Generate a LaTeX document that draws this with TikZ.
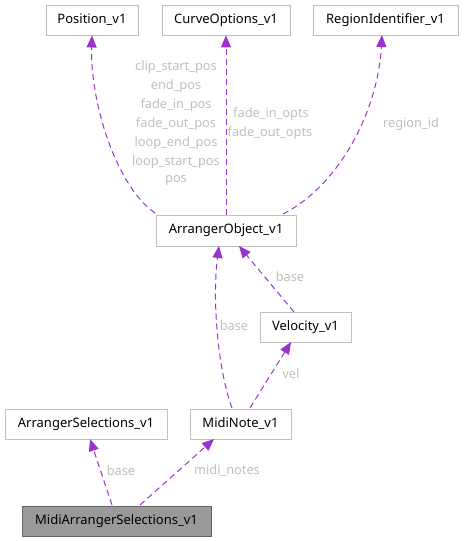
\documentclass[tikz,border=0pt]{standalone}
\usepackage{fontspec}
\setmainfont{Noto Sans}
\usetikzlibrary{arrows.meta}
\definecolor{edgec}{HTML}{9A32CD}
\definecolor{labc}{HTML}{BEBEBE}
\definecolor{boxc}{HTML}{BFBFBF}
\tikzset{
  cls/.style={draw=boxc, line width=0.9pt, fill=white, minimum height=30pt, inner sep=0pt, font=\fontsize{13}{15}\selectfont, text=black},
  focus/.style={cls, fill=black!40, draw=black!60},
  edge/.style={draw=edgec, line width=1pt, dash pattern=on 6pt off 4pt, -{Triangle[length=12pt,width=10pt]}},
  lab/.style={text=labc, font=\fontsize{12.8}{15}\selectfont, inner sep=0pt, align=center}
}
\begin{document}
\begin{tikzpicture}[x=1pt,y=-1pt]
\useasboundingbox (0,0) rectangle (464,541);
\node[cls, minimum width=92pt] (pos) at (92,20) {Position\_v1};
\node[cls, minimum width=128pt] (curve) at (226,20) {CurveOptions\_v1};
\node[cls, minimum width=145pt] (region) at (385.5,20) {RegionIdentifier\_v1};
\node[cls, minimum width=140pt, minimum height=31pt] (ao) at (226,230.5) {ArrangerObject\_v1};
\node[cls, minimum width=91pt] (vel) at (305.5,327) {Velocity\_v1};
\node[cls, minimum width=162pt] (asel) at (86,424) {ArrangerSelections\_v1};
\node[cls, minimum width=101pt] (note) at (240.5,424) {MidiNote\_v1};
\node[focus, minimum width=189pt] (masel) at (116.5,521) {MidiArrangerSelections\_v1};

\coordinate (aoA) at (155,213);
\coordinate (aoC) at (283,214);
\coordinate (noteA) at (232,408);
\coordinate (noteB) at (250,408);
\coordinate (velA) at (294,312);
\coordinate (mA) at (112,505);
\coordinate (mB) at (140,505);

\draw[edge] (aoA) .. controls (115,185) and (90,100) .. (pos.south);
\draw[edge] (ao.north) -- (curve.south);
\draw[edge] (aoC) .. controls (340,185) and (378,110) .. (382,35);
\draw[edge] (noteA) .. controls (218,370) and (212,300) .. (219,246);
\draw[edge] (velA) -- (239,246);
\draw[edge] (noteB) -- (291,342);
\draw[edge] (mA) -- (90,439);
\draw[edge] (mB) -- (214,439);

\node[lab] (l1) at (176,67) {clip\_start\_pos};
\node[lab] (l2) at (176,86) {end\_pos};
\node[lab] (l3) at (176,105) {fade\_in\_pos};
\node[lab] (l4) at (176,124) {fade\_out\_pos};
\node[lab] (l5) at (176,143) {loop\_end\_pos};
\node[lab] (l6) at (176,162) {loop\_start\_pos};
\node[lab] (l7) at (176,181) {pos};
\node[lab] (l8) at (271,114) {fade\_in\_opts};
\node[lab] (l9) at (270,133) {fade\_out\_opts};
\node[lab] (l10) at (411,124) {region\_id};
\node[lab] (l11) at (290,277) {base};
\node[lab] (l12) at (234,326) {base};
\node[lab] (l13) at (291,374) {vel};
\node[lab] (l14) at (121,471) {base};
\node[lab] (l15) at (227,471) {midi\_notes};
\end{tikzpicture}
\end{document}
